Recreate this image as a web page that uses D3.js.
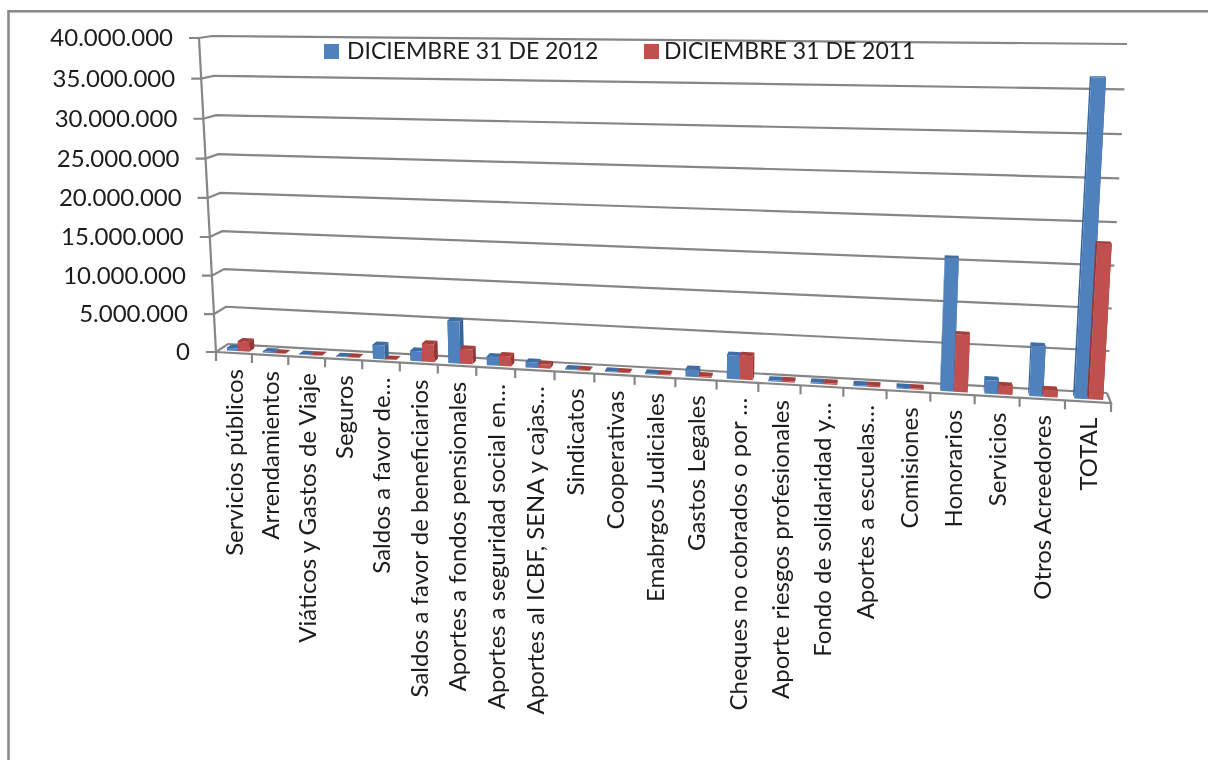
<!DOCTYPE html>
<html>
<head>
<meta charset="utf-8">
<script src="https://cdn.jsdelivr.net/npm/d3@7"></script>
<style>
  html, body { margin: 0; padding: 0; background: #fff; overflow: hidden; }
  svg { filter: blur(0.45px); }
  text { font-family: Lato, "Open Sans", sans-serif; fill: #1c1c1c; }
</style>
</head>
<body>
<svg id="chart" width="1208" height="760"></svg>
<script>
const categories = [
  "Servicios públicos", "Arrendamientos", "Viáticos y Gastos de Viaje", "Seguros",
  "Saldos a favor de…", "Saldos a favor de beneficiarios", "Aportes a fondos pensionales",
  "Aportes a seguridad social en…", "Aportes al ICBF, SENA y cajas…", "Sindicatos",
  "Cooperativas", "Emabrgos Judiciales", "Gastos Legales", "Cheques no cobrados o por …",
  "Aporte riesgos profesionales", "Fondo de solidaridad y…", "Aportes a escuelas…",
  "Comisiones", "Honorarios", "Servicios", "Otros Acreedores", "TOTAL"
];
const values2012 = [
  350000, 150000, 60000, 60000, 1800000, 1300000, 5400000, 1100000, 700000, 100000,
  100000, 120000, 900000, 2900000, 130000, 150000, 150000, 120000, 15700000, 1600000,
  5900000, 36500000
];
const values2011 = [
  1300000, 50000, 60000, 60000, 50000, 2300000, 1900000, 1300000, 500000, 100000,
  100000, 120000, 150000, 2950000, 150000, 150000, 150000, 120000, 6800000, 1000000,
  800000, 18000000
];
const seriesNames = ["DICIEMBRE 31 DE 2012", "DICIEMBRE 31 DE 2011"];
const yTicks = [0, 5000000, 10000000, 15000000, 20000000, 25000000, 30000000, 35000000, 40000000];

const seriesValues = [values2012, values2011];
const colors = [
  { front: "#4f81bd", side: "#37649b", top: "#3f6ca3" },
  { front: "#c0504d", side: "#943634", top: "#a53f3c" }
];

const svg = d3.select("#chart");

// frame round the pasted chart, its right and bottom edges fall outside the picture
svg.append("rect")
  .attr("x", 8.5).attr("y", 11.3).attr("width", 1300).attr("height", 900)
  .attr("fill", "#fff").attr("stroke", "#8a8a8a").attr("stroke-width", 2.6);

// the picture is an Excel 3D chart, so model space is projected on two planes
const homography = (p00, p10, p11, p01) => {
  const dx1 = p10[0] - p11[0], dx2 = p01[0] - p11[0], sx = p00[0] - p10[0] + p11[0] - p01[0];
  const dy1 = p10[1] - p11[1], dy2 = p01[1] - p11[1], sy = p00[1] - p10[1] + p11[1] - p01[1];
  const den = dx1 * dy2 - dx2 * dy1;
  const g = (sx * dy2 - dx2 * sy) / den, h = (dx1 * sy - sx * dy1) / den;
  const a = p10[0] - p00[0] + g * p10[0], b = p01[0] - p00[0] + h * p01[0], c = p00[0];
  const d = p10[1] - p00[1] + g * p10[1], e = p01[1] - p00[1] + h * p01[1], f = p00[1];
  return (u, v) => {
    const w = g * u + h * v + 1;
    return [(a * u + b * v + c) / w, (d * u + e * v + f) / w];
  };
};
const frontPlane = homography([216, 352], [1111, 403], [1131, 46], [199, 38]);
const backPlane = homography([228, 344], [1107, 393], [1127, 44], [212, 36]);

const x = d3.scaleBand().domain(d3.range(categories.length)).range([0, 1]);
const xSeries = d3.scaleBand().domain([0, 1]).range([0, x.bandwidth()]).paddingOuter(0.6).paddingInner(0).align(0.6);
const y = d3.scaleLinear().domain([0, 40000000]).range([0, 1]);
const numberFormat = d3.formatLocale({ decimal: ",", thousands: ".", grouping: [3], currency: ["", ""] }).format(",d");

const project = (u, value, depth) => {
  const f = frontPlane(u, y(value)), b = backPlane(u, y(value));
  return [f[0] + (b[0] - f[0]) * depth, f[1] + (b[1] - f[1]) * depth];
};
const polyLine = (pts) => d3.line()(pts);
const gridColor = "#868686";

// walls and gridlines
const grid = svg.append("g").attr("fill", "none").attr("stroke", gridColor).attr("stroke-width", 2.2);
yTicks.forEach((t) => {
  const front = project(0, t, 0);
  grid.append("path").attr("d", polyLine([
    [front[0] - 10, front[1]], front, project(0, t, 1), project(1, t, 1)
  ]));
});
grid.append("path").attr("d", polyLine([project(0, 0, 0), project(0, 40000000, 0)]));
grid.append("path").attr("d", polyLine([project(0, 0, 0), project(1, 0, 0), project(1, 0, 1)]));

// category ticks under the front edge
d3.range(categories.length + 1).forEach((i) => {
  const u = i / categories.length;
  const p = project(u, 0, 0);
  grid.append("path").attr("d", polyLine([p, [p[0], p[1] + 9]]));
});

// value labels
svg.append("g").selectAll("text")
  .data(yTicks)
  .join("text")
  .attr("x", (d) => project(0, d, 0)[0] - 26)
  .attr("y", (d) => project(0, d, 0)[1])
  .attr("dy", "0.34em")
  .attr("text-anchor", "end")
  .attr("font-size", 24)
  .text((d) => numberFormat(d));

// bars, each one a small box: side faces, then top, then front
const bars = svg.append("g");
const depthNear = 0.25, depthFar = 0.68;
categories.forEach((c, i) => {
  [0, 1].forEach((s) => {
    const value = seriesValues[s][i];
    const u0 = x(i) + xSeries(s), u1 = u0 + xSeries.bandwidth();
    const face = (pts, fill) => bars.append("path").attr("d", polyLine(pts) + "Z").attr("fill", fill);
    const c0 = colors[s];
    face([project(u0, 0, depthNear), project(u0, 0, depthFar), project(u0, value, depthFar), project(u0, value, depthNear)], c0.side);
    face([project(u1, 0, depthNear), project(u1, 0, depthFar), project(u1, value, depthFar), project(u1, value, depthNear)], c0.side);
    face([project(u0, value, depthNear), project(u1, value, depthNear), project(u1, value, depthFar), project(u0, value, depthFar)], c0.top);
    face([project(u0, 0, depthNear), project(u1, 0, depthNear), project(u1, value, depthNear), project(u0, value, depthNear)], c0.front);
  });
});

// category labels
svg.append("g").selectAll("text")
  .data(categories)
  .join("text")
  .attr("transform", (d, i) => {
    const p = project(x(i) + x.bandwidth() / 2, 0, 0);
    return `translate(${p[0] + 1},${p[1] + 16}) rotate(-90)`;
  })
  .attr("dy", "0.34em")
  .attr("text-anchor", "end")
  .attr("font-size", 24)
  .text((d) => d);

// legend
const legendSwatchX = [324, 644];
const legendTextX = [347, 664];
seriesNames.forEach((name, i) => {
  svg.append("rect")
    .attr("x", legendSwatchX[i]).attr("y", 44).attr("width", 15).attr("height", 15)
    .attr("fill", colors[i].front);
  svg.append("text")
    .attr("x", legendTextX[i]).attr("y", 59)
    .attr("font-size", 23)
    .text(name);
});
</script>
</body>
</html>
